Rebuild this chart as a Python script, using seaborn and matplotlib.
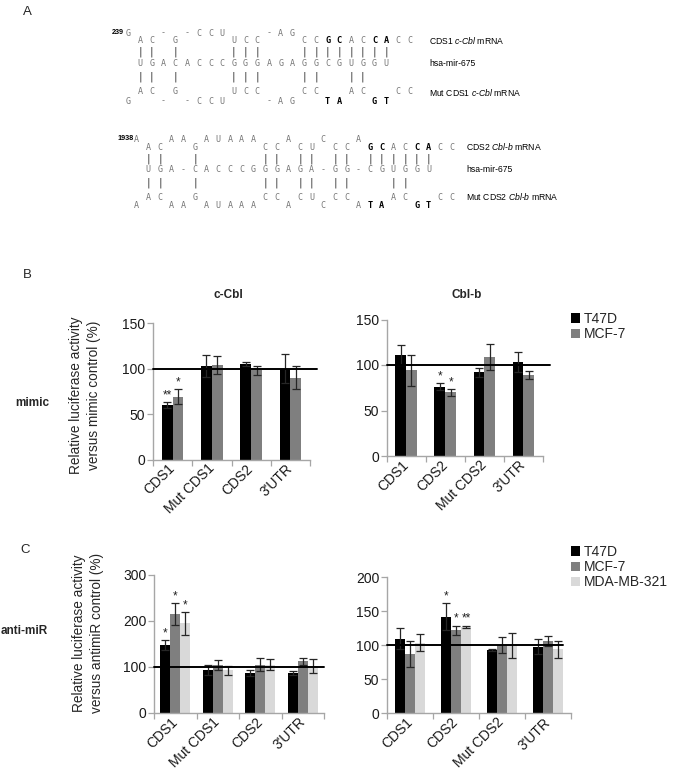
import numpy as np
import pandas as pd
import matplotlib
matplotlib.use("Agg")
import matplotlib.pyplot as plt
import seaborn as sns
from matplotlib.patches import Patch

# ---------------- data ----------------
cells_B = ["T47D", "MCF-7"]
cells_C = ["T47D", "MCF-7", "MDA-MB-321"]
cats_ccbl = ["CDS1", "Mut CDS1", "CDS2", "3'UTR"]
cats_cblb = ["CDS1", "CDS2", "Mut CDS2", "3'UTR"]

# B: mimic, c-Cbl
mimic_ccbl_t47d = [60, 103, 105, 100]
mimic_ccbl_t47d_err = [3, 12, 2, 16]
mimic_ccbl_mcf7 = [69, 104, 98, 90]
mimic_ccbl_mcf7_err = [8, 10, 5, 13]
mimic_ccbl_stars = [["**", "", "", ""], ["*", "", "", ""]]

# B: mimic, Cbl-b
mimic_cblb_t47d = [111, 76, 92, 103]
mimic_cblb_t47d_err = [11, 4, 5, 11]
mimic_cblb_mcf7 = [94, 70, 109, 89]
mimic_cblb_mcf7_err = [17, 4, 14, 4]
mimic_cblb_stars = [["", "*", "", ""], ["", "*", "", ""]]

# C: anti-miR, c-Cbl
anti_ccbl_t47d = [147, 93, 86, 87]
anti_ccbl_t47d_err = [11, 11, 7, 4]
anti_ccbl_mcf7 = [214, 104, 105, 112]
anti_ccbl_mcf7_err = [24, 10, 14, 8]
anti_ccbl_mda = [195, 92, 105, 102]
anti_ccbl_mda_err = [25, 9, 12, 16]
anti_ccbl_stars = [["*", "", "", ""], ["*", "", "", ""], ["*", "", "", ""]]

# C: anti-miR, Cbl-b
anti_cblb_t47d = [110, 142, 93, 98]
anti_cblb_t47d_err = [16, 20, 2, 11]
anti_cblb_mcf7 = [87, 122, 100, 106]
anti_cblb_mcf7_err = [19, 7, 12, 7]
anti_cblb_mda = [104, 127, 100, 94]
anti_cblb_mda_err = [13, 2, 18, 13]
anti_cblb_stars = [["", "*", "", ""], ["", "*", "", ""], ["", "**", "", ""]]

# Panel A alignments (one character per column, first char = column -1;
# lowercase = bold mutated/seed letters)
aln1_rows = [
    "G  - -CCU   -AG",
    " AC G    UCC   CCgcACcaCC",
    " || |    |||   ||||||||",
    " UGACACCCGGGAGAGGCGUGGU",
    " || |    |||   ||  ||",
    " AC G    UCC   CC  AC  CC",
    "G  - -CCU   -AG  ta  gt",
]
aln2_rows = [
    "A  AA AUAAA  A  C  A",
    " AC  G     CC CU CC gcACcaCC",
    " ||  |     || || || ||||||",
    " UGA-CACCCGGGAGA-GG-CGUGGU",
    " ||  |     || || ||   ||",
    " AC  G     CC CU CC   AC  CC",
    "A  AA AUAAA  A  C  Ata  gt",
]
aln1_start = "239"
aln2_start = "1938"
aln1_labels = [("CDS1 ", "c", "-", "Cbl", " mRNA"), ("hsa-mir-675",), ("Mut CDS1 ", "c", "-", "Cbl", " mRNA")]
aln2_labels = [("CDS2 ", "Cbl", "-", "b", " mRNA"), ("hsa-mir-675",), ("Mut CDS2 ", "Cbl", "-", "b", " mRNA")]

# ---------------- figure ----------------
W, H = 677, 772
sns.set_theme(style="ticks")
plt.rcParams["font.family"] = ["Liberation Sans", "DejaVu Sans"]
plt.rcParams["mathtext.fontset"] = "custom"
plt.rcParams["mathtext.it"] = "Liberation Sans:italic"
plt.rcParams["mathtext.rm"] = "Liberation Sans"

fig = plt.figure(figsize=(W / 100, H / 100), dpi=100)
fig.patch.set_facecolor("white")

COLORS = ["#000000", "#7f7f7f", "#d9d9d9"]
SPINE = "#a6a6a6"


def ftext(x, y, s, **kw):
    return fig.text(x / W, 1 - y / H, s, **kw)


def px_rect(l, t, r, b):
    return [l / W, 1 - b / H, (r - l) / W, (b - t) / H]


# ---- panel A ----
def draw_alignment(rows, x0, dx, ys, start, start_xy, labels, label_x):
    for row, y in zip(rows, ys):
        for i, ch in enumerate(row):
            if ch == " ":
                continue
            x = x0 + (i - 1) * dx
            if ch == "|":
                ftext(x, y, "|", ha="center", va="center", fontsize=7.5,
                      color="#3a3a3a", family="DejaVu Sans")
            elif ch.islower():
                ftext(x, y, ch.upper(), ha="center", va="center", fontsize=6.2,
                      color="black", family="DejaVu Sans Mono", weight="bold")
            else:
                ftext(x, y, ch, ha="center", va="center", fontsize=6.0,
                      color="#777777", family="DejaVu Sans Mono")
    ftext(start_xy[0], start_xy[1], start, ha="right", va="center",
          fontsize=5.2, weight="bold", color="black")
    for lab, y in zip(labels, [ys[1], ys[3], ys[5]]):
        if len(lab) == 1:
            s = lab[0]
        else:
            s = lab[0] + r"$\it{" + lab[1] + "}$" + lab[2] + r"$\it{" + lab[3] + "}$" + lab[4]
        ftext(label_x, y, s, ha="left", va="center", fontsize=6.2, color="black")


draw_alignment(aln1_rows, 140, 11.73, [33, 40.5, 52, 63.5, 77, 92, 101],
               aln1_start, (124, 33), aln1_labels, 429)
draw_alignment(aln2_rows, 148.3, 11.67, [139, 147, 159, 170, 183, 197, 206],
               aln2_start, (134, 139), aln2_labels, 466)

ftext(27, 12, "A", ha="center", va="center", fontsize=9.5)
ftext(27, 275, "B", ha="center", va="center", fontsize=9.5)
ftext(25, 550, "C", ha="center", va="center", fontsize=9.5)


# ---- bar panels ----
def draw_panel(rect, cats, cells, vals, errs, stars, ylim, yticks, width, line_end):
    ax = fig.add_axes(px_rect(*rect))
    df = pd.DataFrame({
        "region": np.tile(cats, len(cells)),
        "cell": np.repeat(cells, len(cats)),
        "value": np.concatenate([np.asarray(v, float) for v in vals]),
    })
    sns.barplot(data=df, x="region", y="value", hue="cell", order=cats,
                hue_order=cells, palette=COLORS[:len(cells)], width=width,
                saturation=1, errorbar=None, legend=False, ax=ax, linewidth=0)
    for cont, e, s in zip(ax.containers, errs, stars):
        for bar, ee, ss in zip(cont, e, s):
            xc = bar.get_x() + bar.get_width() / 2
            h = bar.get_height()
            ax.errorbar(xc, h, yerr=ee, fmt="none", ecolor="#262626",
                        elinewidth=0.9, capsize=2.6, capthick=0.9, zorder=4)
            if ss:
                ax.annotate(ss, (xc, h + ee), xytext=(0, 0.5),
                            textcoords="offset points", ha="center",
                            va="bottom", fontsize=8.5, color="#222222")
    ax.plot([-0.5, line_end], [100, 100], color="black", lw=1.4,
            clip_on=False, zorder=5)
    ax.set_xlim(-0.5, len(cats) - 0.5)
    ax.set_ylim(*ylim)
    ax.set_yticks(yticks)
    ax.set_xlabel("")
    ax.set_ylabel("")
    sns.despine(ax=ax)
    for sp in ("left", "bottom"):
        ax.spines[sp].set_color(SPINE)
        ax.spines[sp].set_linewidth(1.0)
    ax.tick_params(axis="y", length=4, width=0.9, color=SPINE,
                   labelsize=10, pad=1.5, labelcolor="#1a1a1a")
    ax.tick_params(axis="x", which="major", length=0, labelsize=10,
                   pad=5, labelcolor="#1a1a1a")
    ax.set_xticks(np.arange(-0.5, len(cats)), minor=True)
    ax.tick_params(axis="x", which="minor", length=4, width=0.9, color=SPINE)
    for lab in ax.get_xticklabels():
        lab.set_rotation(45)
        lab.set_ha("right")
        lab.set_va("center")
        lab.set_rotation_mode("anchor")
    return ax


draw_panel((153, 323, 310, 459.5), cats_ccbl, cells_B,
           [mimic_ccbl_t47d, mimic_ccbl_mcf7],
           [mimic_ccbl_t47d_err, mimic_ccbl_mcf7_err],
           mimic_ccbl_stars, (0, 150), [0, 50, 100, 150], 0.55, 3.68)
axBr = draw_panel((386.5, 319.5, 543, 456), cats_cblb, cells_B,
                  [mimic_cblb_t47d, mimic_cblb_mcf7],
                  [mimic_cblb_t47d_err, mimic_cblb_mcf7_err],
                  mimic_cblb_stars, (0, 150), [0, 50, 100, 150], 0.55, 3.68)
draw_panel((154, 575, 324, 712.7), cats_ccbl, cells_C,
           [anti_ccbl_t47d, anti_ccbl_mcf7, anti_ccbl_mda],
           [anti_ccbl_t47d_err, anti_ccbl_mcf7_err, anti_ccbl_mda_err],
           anti_ccbl_stars, (0, 300), [0, 100, 200, 300], 0.71, 3.5)
axCr = draw_panel((387, 577.3, 571, 713.3), cats_cblb, cells_C,
                  [anti_cblb_t47d, anti_cblb_mcf7, anti_cblb_mda],
                  [anti_cblb_t47d_err, anti_cblb_mcf7_err, anti_cblb_mda_err],
                  anti_cblb_stars, (0, 200), [0, 50, 100, 150, 200], 0.65, 3.33)

# legends
for cells, top in ((cells_B, 312), (cells_C, 545)):
    handles = [Patch(facecolor=COLORS[i], edgecolor="none", label=c)
               for i, c in enumerate(cells)]
    fig.legend(handles=handles, loc="upper left",
               bbox_to_anchor=(571 / W, 1 - top / H), frameon=False,
               fontsize=10, handlelength=0.65, handleheight=0.65,
               handletextpad=0.25, labelspacing=0.08, borderpad=0,
               borderaxespad=0)

# titles and labels
ftext(228, 295, "c-Cbl", ha="center", va="center", fontsize=8.5, weight="bold")
ftext(467, 295, "Cbl-b", ha="center", va="center", fontsize=8.5, weight="bold")
ftext(15, 403, "mimic", ha="left", va="center", fontsize=8.5, weight="bold")
ftext(1, 631, "anti-miR", ha="left", va="center", fontsize=8.5, weight="bold")
ftext(85, 395, "Relative luciferase activity\nversus mimic control (%)",
      rotation=90, ha="center", va="center", fontsize=9.8, linespacing=1.45)
ftext(88, 633, "Relative luciferase activity\nversus antimiR control (%)",
      rotation=90, ha="center", va="center", fontsize=9.8, linespacing=1.45)

fig.savefig("out.png", dpi=100, facecolor="white")
